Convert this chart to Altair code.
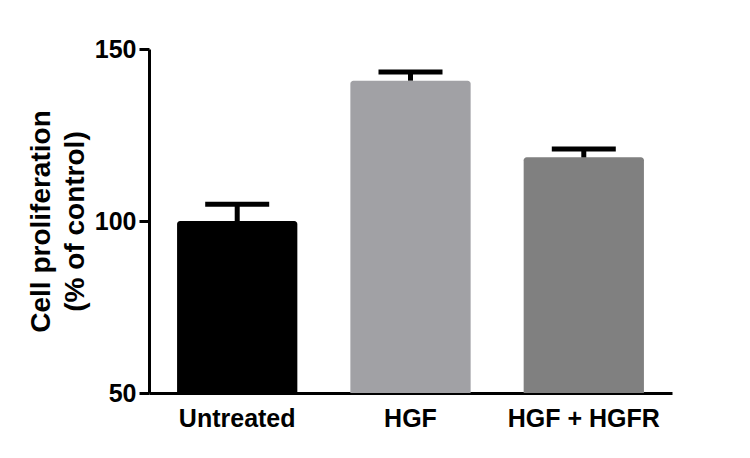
import altair as alt
import pandas as pd

categories = ["Untreated", "HGF", "HGF + HGFR"]
means = [100.0, 140.8, 118.5]
errors = [4.9, 2.5, 2.4]
colors = ["#000000", "#a1a1a5", "#808080"]
y_ticks = [50, 100, 150]

df = pd.DataFrame({"group": categories, "mean": means, "err": errors, "color": colors})
df["upper"] = df["mean"] + df["err"]

FONT = "Liberation Sans"

x_enc = alt.X(
    "group:N",
    sort=categories,
    title=None,
    scale=alt.Scale(paddingInner=0.306, paddingOuter=0.162),
    axis=alt.Axis(
        labelAngle=0,
        ticks=False,
        domainWidth=3,
        domainColor="black",
        labelFont=FONT,
        labelFontWeight="bold",
        labelFontSize=25,
        labelColor="black",
        labelPadding=13,
    ),
)

y_scale = alt.Scale(domain=[50, 150], nice=False, zero=False)

bars = alt.Chart(df).mark_bar(cornerRadiusTopLeft=3, cornerRadiusTopRight=3).encode(
    x=x_enc,
    y=alt.Y(
        "mean:Q",
        scale=y_scale,
        axis=alt.Axis(
            values=y_ticks,
            grid=False,
            domainWidth=3,
            domainColor="black",
            tickWidth=3,
            tickSize=10,
            tickColor="black",
            labelFont=FONT,
            labelFontWeight="bold",
            labelFontSize=25,
            labelColor="black",
            labelPadding=3,
            title=["Cell proliferation", "(% of control)"],
            titleFont=FONT,
            titleFontWeight="bold",
            titleFontSize=28,
            titleColor="black",
            titleLineHeight=34,
            titlePadding=5,
        ),
    ),
    y2=alt.datum(50),
    color=alt.Color("color:N", scale=None, legend=None),
)

stems = alt.Chart(df).mark_rule(strokeWidth=5, color="black").encode(
    x=alt.X("group:N", sort=categories),
    y=alt.Y("mean:Q", scale=y_scale),
    y2="upper:Q",
)

caps = alt.Chart(df).mark_tick(thickness=5, size=64, color="black", opacity=1).encode(
    x=alt.X("group:N", sort=categories),
    y=alt.Y("upper:Q", scale=y_scale),
)

chart = (
    alt.layer(bars, stems, caps)
    .properties(
        width=523,
        height=344,
        autosize=alt.AutoSizeParams(type="none"),
        padding={"left": 141, "top": 41, "right": 60, "bottom": 50},
        background="white",
    )
    .configure_view(stroke=None)
)

chart.save("out.html", embed_options={"renderer": "svg", "actions": False})
